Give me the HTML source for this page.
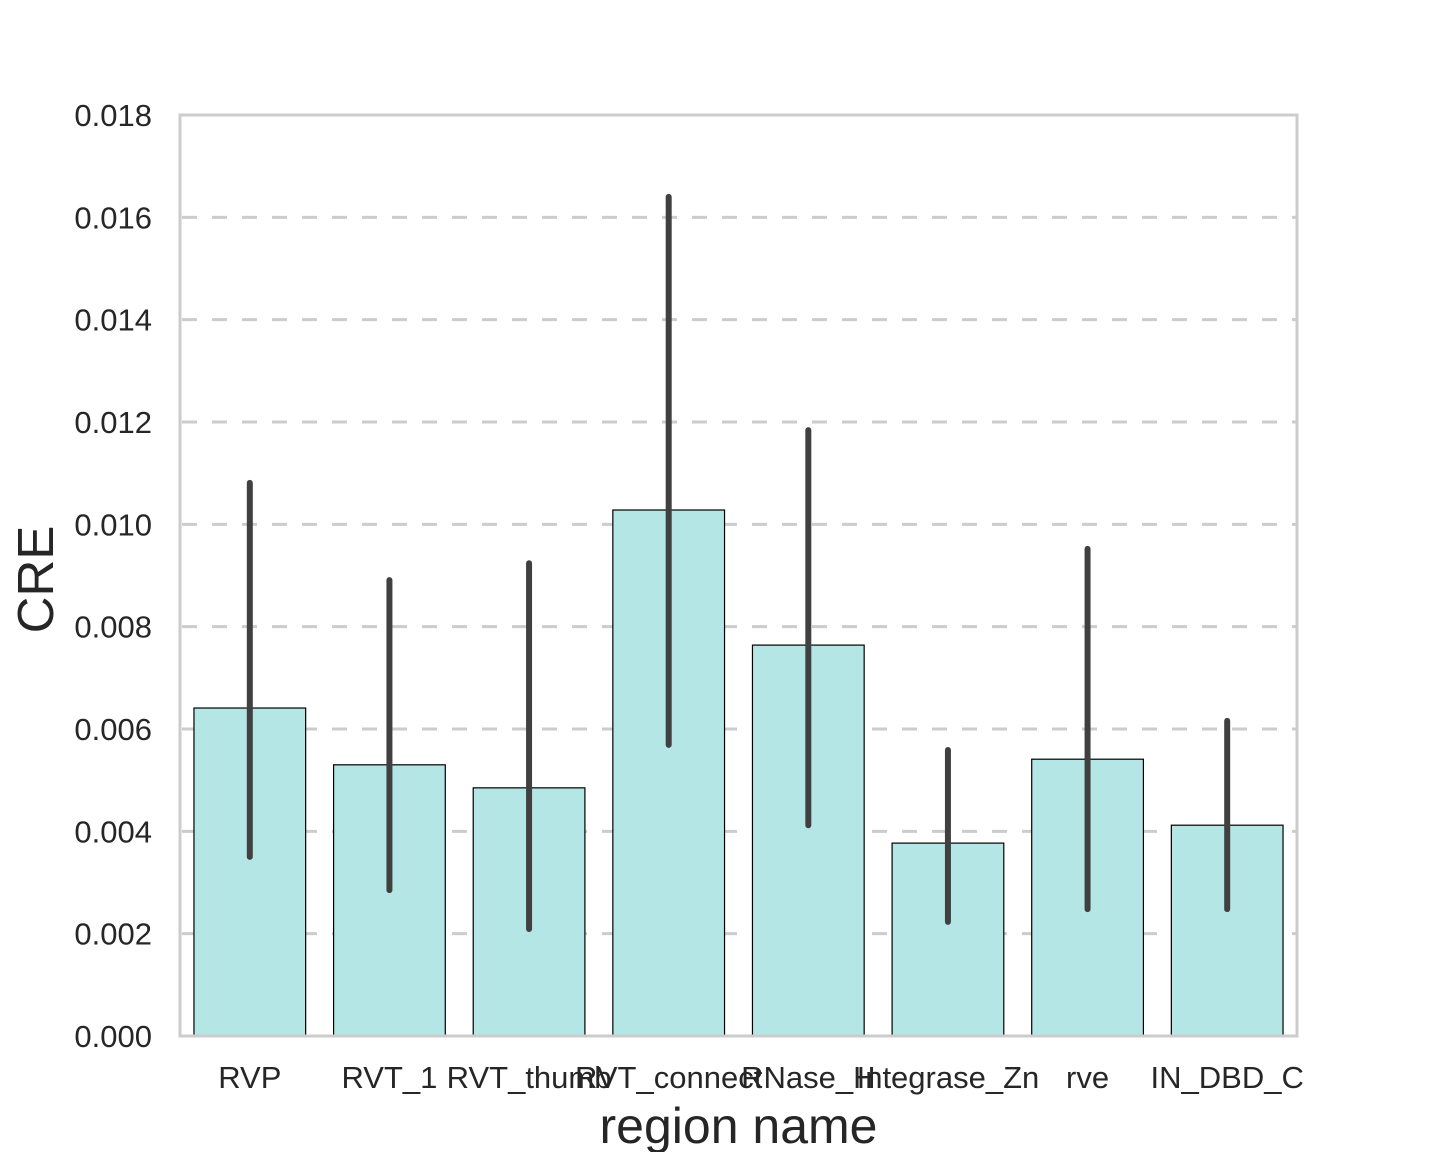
<!DOCTYPE html>
<html><head><meta charset="utf-8"><style>
html,body{margin:0;padding:0;background:#fff;}
svg{display:block;font-family:"Liberation Sans",Arial,sans-serif;}
</style></head><body>
<svg id="chart" width="1440" height="1152" xmlns="http://www.w3.org/2000/svg"></svg>
<script>
const categories = ["RVP","RVT_1","RVT_thumb","RVT_connect","RNase_H","Integrase_Zn","rve","IN_DBD_C"];
const values = [0.00641,0.0053,0.00485,0.01028,0.00764,0.00377,0.00541,0.00412];
const errLow = [0.0035,0.00285,0.00209,0.00569,0.00412,0.00223,0.00248,0.00248];
const errHigh = [0.01081,0.00891,0.00924,0.0164,0.01184,0.00559,0.00952,0.00616];
const yTicks = [0,0.002,0.004,0.006,0.008,0.01,0.012,0.014,0.016,0.018];
const yTickLabels = ["0.000","0.002","0.004","0.006","0.008","0.010","0.012","0.014","0.016","0.018"];

const NS="http://www.w3.org/2000/svg";
const svg=document.getElementById('chart');
const L=180,R=1297,T=115,B=1036,yMax=0.018;
const y=v=>B-(v/yMax)*(B-T);
const step=(R-L)/categories.length;
const xc=i=>L+step*(i+0.5);
function mk(tag,attrs){const e=document.createElementNS(NS,tag);for(const k in attrs)e.setAttribute(k,attrs[k]);svg.appendChild(e);return e;}

yTicks.forEach((t,i)=>{
  if(i>0 && i<yTicks.length-1){
    const g=mk('line',{x1:L+2,x2:R,y1:y(t),y2:y(t),stroke:'#cccccc','stroke-width':3,'stroke-dasharray':'15,15'});
    
    
  }
  const tx=mk('text',{x:152,y:y(t)+11,'text-anchor':'end','font-size':31,fill:'#262626'});
  tx.textContent=yTickLabels[i];
  
  
});

const bw=step*0.8;
categories.forEach((c,i)=>{
  const b=mk('rect',{x:xc(i)-bw/2,y:y(values[i]),width:bw,height:B-y(values[i]),fill:'#b5e6e6',stroke:'#000','stroke-width':1.2});
  
  
});
categories.forEach((c,i)=>{
  const e=mk('line',{x1:xc(i),x2:xc(i),y1:y(errLow[i]),y2:y(errHigh[i]),stroke:'#404040','stroke-width':6,'stroke-linecap':'round'});
  
  
  const t=mk('text',{x:xc(i),y:1088,'text-anchor':'middle','font-size':31,fill:'#262626'});
  t.textContent=c;
  
  
});

const frame=mk('rect',{x:L,y:T,width:R-L,height:B-T,fill:'none',stroke:'#cccccc','stroke-width':3});



const xl=mk('text',{x:(L+R)/2,y:1143,'text-anchor':'middle','font-size':50,fill:'#262626'});
xl.textContent='region name';


const yl=mk('text',{x:0,y:0,'text-anchor':'middle','font-size':51,fill:'#262626',transform:'translate(53,'+((T+B)/2+4)+') rotate(-90)'});
yl.textContent='CRE';


</script>
</body></html>
